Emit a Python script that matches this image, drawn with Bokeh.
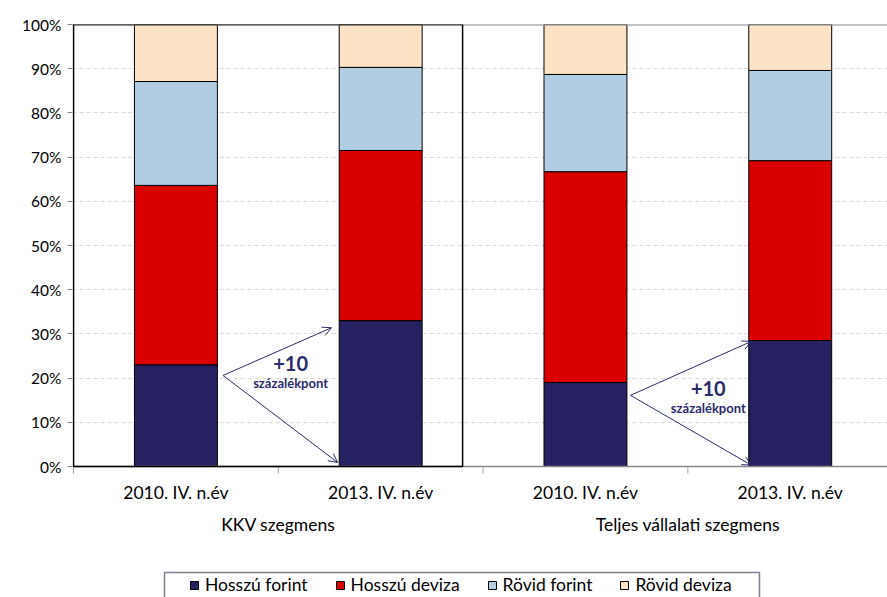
from bokeh.plotting import figure
from bokeh.models import (Range1d, FixedTicker, Label, Legend, LegendItem, Arrow,
                          OpenHead, ColumnDataSource)
from bokeh.embed import file_html
from bokeh.resources import INLINE

categories = ["2010. IV. n.év", "2013. IV. n.év", "2010. IV. n.év", "2013. IV. n.év"]
groups = ["KKV szegmens", "Teljes vállalati szegmens"]
series_names = ["Hosszú forint", "Hosszú deviza", "Rövid forint", "Rövid deviza"]
hosszu_forint = [23.0, 33.0, 19.0, 28.5]
hosszu_deviza = [40.6, 38.5, 47.7, 40.7]
rovid_forint = [23.5, 18.8, 22.0, 20.4]
rovid_deviza = [12.9, 9.7, 11.3, 10.4]
y_ticks = [0, 10, 20, 30, 40, 50, 60, 70, 80, 90, 100]
annot_main = "+10"
annot_sub = "százalékpont"

colors = ["#262262", "#d90000", "#b0cde3", "#fde3c6"]
FONT = "Lato"
PX = 4.42  # pixels per percent
X0, X1 = -0.005, 3.975
UNIT = 815 / (X1 - X0)


def sx(px):
    return X0 + (px - 72) / UNIT


def sy(py):
    return 100 - (py - 24) / PX


# frame spans from y=24 to the bottom of the canvas; 0% sits at y=466
p = figure(width=887, height=597, output_backend="svg", toolbar_location=None,
           x_range=Range1d(X0, X1), y_range=Range1d(100 - 573 / PX, 100),
           min_border_left=72, min_border_right=0, min_border_top=24,
           min_border_bottom=0)
p.outline_line_color = None
p.background_fill_color = "white"
p.xaxis.visible = False

xs = [i + 0.5 for i in range(len(categories))]
series = [hosszu_forint, hosszu_deviza, rovid_forint, rovid_deviza]
bottom = [0.0] * len(xs)
renderers = []
for vals, col in zip(series, colors):
    top = [b + v for b, v in zip(bottom, vals)]
    src = ColumnDataSource(dict(x=xs, bottom=bottom, top=top))
    r = p.vbar(x="x", bottom="bottom", top="top", width=0.405, source=src,
               fill_color=col, line_color="black", line_width=1)
    renderers.append(r)
    bottom = top

# grid
p.xgrid.grid_line_color = None
p.ygrid.ticker = FixedTicker(ticks=y_ticks[1:-1])
p.ygrid.grid_line_color = "#d9d9d9"
p.ygrid.grid_line_dash = "4 3"

# frame lines: top, y-axis, x-axis
p.segment(x0=[X0], y0=[100], x1=[X1], y1=[100], line_color="#868686", line_width=2)
p.segment(x0=[0], y0=[0], x1=[0], y1=[100], line_color="#868686", line_width=1.2)
p.segment(x0=[0], y0=[0], x1=[X1], y1=[0], line_color="#868686", line_width=1.5)
tick_x = [0, 1, 2, 3, 4]
p.segment(x0=tick_x, y0=[0] * 5, x1=tick_x, y1=[-7 / PX] * 5, line_color="#a0a0a0", line_width=1)

# KKV box
p.quad(left=[0], right=[1.9], bottom=[0], top=[100], fill_color=None,
       line_color="black", line_width=1.5)

# y axis
p.yaxis.ticker = FixedTicker(ticks=y_ticks)
p.yaxis.major_label_overrides = {t: f"{t}%" for t in y_ticks}
p.yaxis.axis_line_color = None
p.yaxis.major_tick_line_color = "#868686"
p.yaxis.major_tick_out = 5
p.yaxis.major_tick_in = 0
p.yaxis.minor_tick_line_color = None
p.yaxis.major_label_text_font = FONT
p.yaxis.major_label_text_font_size = "15.5px"
p.yaxis.major_label_text_color = "#000000"
p.yaxis.major_label_standoff = 6

for x, c in zip(xs, categories):
    p.add_layout(Label(x=x, y=sy(492), text=c, text_align="center", text_baseline="middle",
                       text_font=FONT, text_font_size="17.5px", text_color="#000000"))
for x, g in zip([1.0, 3.0], groups):
    p.add_layout(Label(x=x, y=sy(524), text=g, text_align="center", text_baseline="middle",
                       text_font=FONT, text_font_size="17.5px", text_color="#000000"))

# arrows and annotations
acol = "#2b2b6b"
arrows = [((0.73, 20.6), (1.26, 31.4)), ((0.73, 20.6), (1.29, 0.9)),
          ((2.72, 16.1), (3.31, 28.3)), ((2.72, 16.1), (3.31, 0.3))]
for (xs0, ys0), (xe, ye) in arrows:
    p.add_layout(Arrow(x_start=xs0, y_start=ys0, x_end=xe, y_end=ye,
                       line_color=acol, line_width=1,
                       end=OpenHead(size=9, line_color=acol, line_width=1)))
for x, y1, y2 in [(1.06, 23.3, 18.8), (3.10, 17.6, 13.3)]:
    p.add_layout(Label(x=x, y=y1, text=annot_main, text_align="center", text_baseline="middle",
                       text_font=FONT, text_font_size="20px", text_font_style="bold",
                       text_color=acol))
    p.add_layout(Label(x=x, y=y2, text=annot_sub, text_align="center", text_baseline="middle",
                       text_font=FONT, text_font_size="13px", text_font_style="bold",
                       text_color=acol))

# legend frame (open at the bottom edge of the picture)
p.quad(left=[sx(164)], right=[sx(759)], top=[sy(572)], bottom=[sy(610)],
       fill_color="white", line_color="#7f7f8f", line_width=1.5)

legend = Legend(items=[LegendItem(label=n, renderers=[r]) for n, r in zip(series_names, renderers)],
                orientation="horizontal", location=(189 - 72, 2),
                label_text_font=FONT, label_text_font_size="17.5px", label_text_color="#000000",
                glyph_width=10, glyph_height=10, label_standoff=6, spacing=27,
                padding=0, margin=0, border_line_color=None, background_fill_alpha=0,
                label_height=20)
p.add_layout(legend, "center")

open("out.html", "w").write(file_html(p, INLINE))
